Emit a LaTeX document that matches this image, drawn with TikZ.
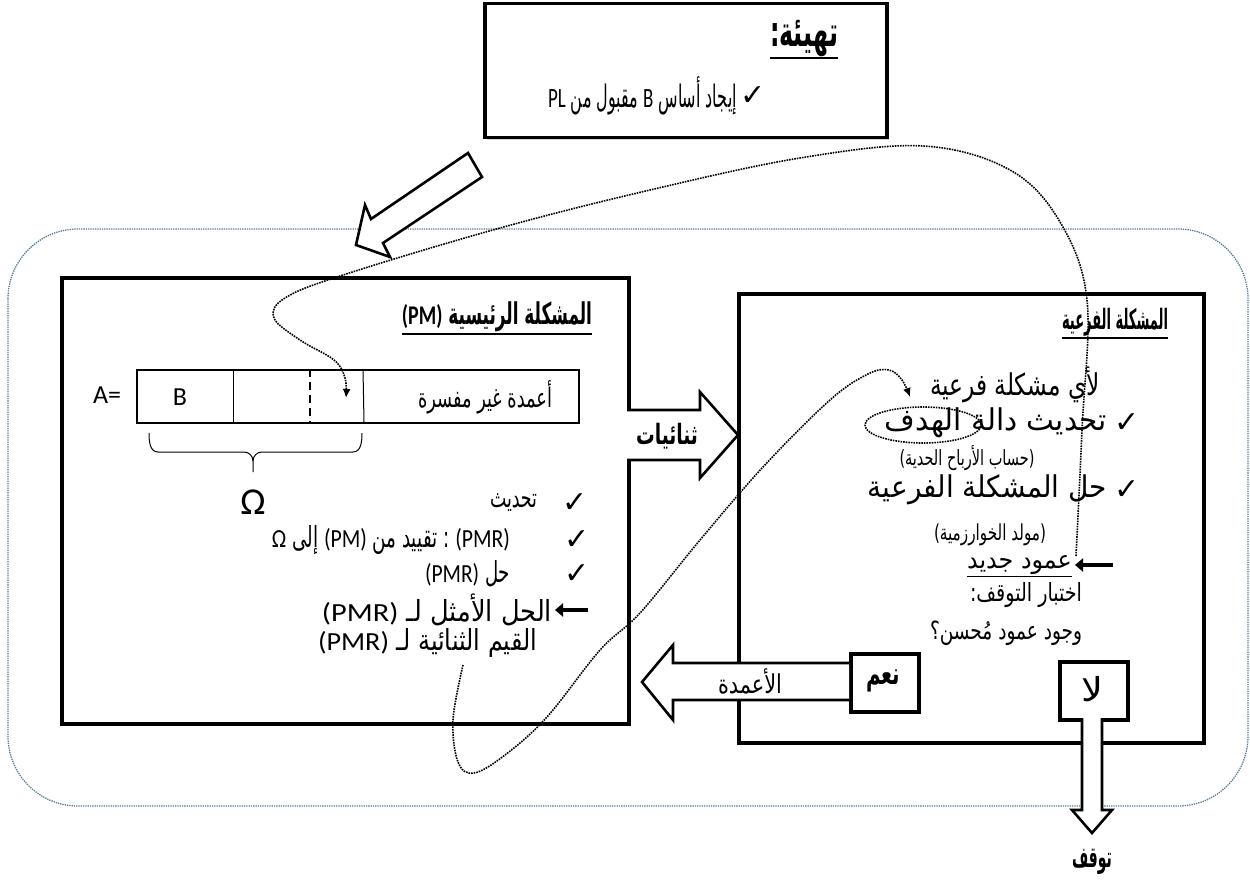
\documentclass[tikz,border=0pt]{standalone}
\usepackage{fontspec}
\usepackage{graphicx}
\usetikzlibrary{arrows.meta,shadows,calc}
\TeXXeTstate=1
\newfontfamily\ar[Script=Arabic, FakeStretch=0.76]{DejaVu Sans}
\newfontfamily\lat{Carlito}
\newfontfamily\latin[Scale=0.9]{Carlito}
\newfontfamily\sym{DejaVu Sans}
\newcommand\rtl[1]{\beginR#1\endR}
\newcommand\ltr[1]{\beginL{\latin#1}\endL{}}
% set a text at a given size, then fit it to a given width
\newcommand\fitto[3]{\resizebox{#1pt}{\height}{\fontsize{#2pt}{#2pt}\selectfont#3}}
\definecolor{framegrey}{RGB}{84,122,146}
\begin{document}
\begin{tikzpicture}[x=1pt,y=-1pt,
  frame/.style={draw, line width=3.5pt, fill=white, inner sep=0pt, anchor=north west,
    drop shadow={shadow xshift=2.5pt,shadow yshift=-2.5pt,opacity=0.35}},
  txt/.style={inner sep=0pt, outer sep=0pt},
  tick/.style={inner sep=0pt, font=\sym\fontsize{30}{30}\selectfont},
  curve/.style={line width=1.6pt, densely dotted},
  hollow/.style={draw, line width=2.6pt, fill=white, line join=miter},
  pointer/.style={line width=3.2pt, -{Triangle[length=8pt,width=13pt]}},
  uline/.style={line width=1.5pt},
]
\useasboundingbox (0,0) rectangle (1250,880);

% outer dotted frame around the iteration
\draw[framegrey, line width=1.3pt, densely dotted, rounded corners=70pt] (8,229) rectangle (1248,806);

% initialisation box
\node[frame, minimum width=402pt, minimum height=134pt] (init) at (483,2) {};
\node[txt, anchor=east] (initT) at (838,38) {\fitto{68}{42}{\ar\bfseries\rtl{تهيئة:}}};
\draw[uline, line width=2pt] ([yshift=-2pt]initT.south west) -- ([yshift=-2pt]initT.south east);
\node[tick] (initC) at (753,96) {✓};
\node[txt, anchor=east] (initL) at (737,96) {\fitto{189}{31}{\ar\rtl{إيجاد أساس \ltr{B} مقبول من \ltr{PL}}}};

% hollow arrow from the initialisation into the loop
\draw[hollow] (356,245) -- (365,205) -- (371,219) -- (468,153) -- (482,177) -- (383,243) -- (390,257) -- cycle;

% master problem box
\node[frame, minimum width=567pt, minimum height=446pt] (pm) at (60,276) {};
\node[txt, anchor=east] (pmT) at (592,317) {\fitto{190}{30}{\ar\bfseries\rtl{المشكلة الرئيسية \ltr{\bfseries(PM)}}}};
\draw[uline] ([yshift=-2pt]pmT.south west) -- ([yshift=-2pt]pmT.south east);

% column matrix A
\node[draw, line width=1.5pt, inner sep=0pt, anchor=north west, minimum width=442pt, minimum height=53pt] (mat) at (136,369) {};
\draw[line width=1pt] (233,369) -- (233,422);
\draw[line width=1.5pt, dash pattern=on 8pt off 5pt] (310,369) -- (310,422);
\draw[line width=1pt] (363,369) -- (364,422);
\node[txt, font=\lat\fontsize{26}{26}\selectfont] (Alab) at (107,395) {A=};
\node[txt, font=\lat\fontsize{26}{26}\selectfont] (Blab) at (180,397) {B};
\node[txt] (nonb) at (485,397) {\fitto{134}{27}{\ar\rtl{أعمدة غير مفسرة}}};

% brace under the restricted set
\draw[line width=1pt] (149,433) to[out=-90,in=180] (158,452) -- (244,452) to[out=0,in=90] (253,461) -- (253,472);
\draw[line width=1pt] (253,461) to[out=90,in=180] (262,452) -- (353,452) to[out=0,in=-90] (362,433);
\node[txt, font=\lat\fontsize{38}{38}\selectfont] (omega) at (253,502) {Ω};

% master problem steps
\node[tick] (c1) at (575,503) {✓};
\node[txt, anchor=east] (m1) at (537,503) {\fitto{47}{27}{\ar\rtl{تحديث}}};
\node[tick] (c2) at (577,540) {✓};
\node[txt, anchor=east] (m2) at (510,540) {\fitto{238}{29}{\ar\rtl{\ltr{(PMR)} : تقييد من \ltr{(PM)} إلى \ltr{Ω}}}};
\node[tick] (c3) at (577,574) {✓};
\node[txt, anchor=east] (m3) at (510,574) {\fitto{85}{29}{\ar\rtl{حل \ltr{(PMR)}}}};
\node[txt, anchor=east] (m4) at (552,610) {\fitto{230}{29}{\ar\rtl{الحل الأمثل لـ \ltr{(PMR)}}}};
\coordinate (m4tail) at (588,610);
\draw[pointer] (m4tail) -- ([xshift=3pt]m4.east);
\node[txt, anchor=east] (m5) at (537,643) {\fitto{219}{29}{\ar\rtl{القيم الثنائية لـ \ltr{(PMR)}}}};

% subproblem box
\node[frame, minimum width=465pt, minimum height=449pt] (sp) at (737,292) {};
\node[txt, anchor=east] (spT) at (1168,322) {\fitto{106}{28}{\ar\bfseries\rtl{المشكلة الفرعية}}};
\draw[uline] ([yshift=-2pt]spT.south west) -- ([yshift=-2pt]spT.south east);
\node[txt, anchor=east] (s1) at (1100,385) {\fitto{170}{30}{\ar\rtl{لأي مشكلة فرعية}}};
\node[tick] (d1) at (1127,423) {✓};
\node[txt, anchor=east] (s2) at (1107,423) {\fitto{222}{30}{\ar\rtl{تحديث دالة الهدف}}};
\node[txt] (s3) at (967,458) {\fitto{135}{21}{\ar\rtl{(حساب الأرباح الحدية)}}};
\node[tick] (d2) at (1127,490) {✓};
\node[txt, anchor=east] (s4) at (1107,490) {\fitto{239}{30}{\ar\rtl{حل المشكلة الفرعية}}};
\node[txt] (s5) at (990,535) {\fitto{112}{22}{\ar\rtl{(مولد الخوارزمية)}}};
\node[txt, anchor=east] (s6) at (1072,565) {\fitto{105}{25}{\ar\rtl{عمود جديد}}};
\draw[uline, line width=1.2pt] ([yshift=-2pt]s6.south west) -- ([yshift=-2pt]s6.south east);
\coordinate (s6tail) at (1113,565);
\draw[pointer] (s6tail) -- ([xshift=3pt]s6.east);
\node[txt, anchor=east] (s7) at (1082,595) {\fitto{112}{25}{\ar\rtl{اختبار التوقف:}}};
\node[txt, anchor=east] (s8) at (1082,633) {\fitto{152}{25}{\ar\rtl{وجود عمود مُحسن؟}}};

% objective function marker
\draw[curve] (923,425) ellipse [x radius=58pt, y radius=18pt];

% duals passed from master to subproblem
\draw[hollow] (627,410) -- (700,410) -- (700,392) -- (738,435) -- (700,478) -- (700,460) -- (627,460);
\node[txt] (dual) at (667,436) {\fitto{62}{28}{\ar\bfseries\rtl{ثنائيات}}};

% yes / no outcome boxes
\node[frame, minimum width=68pt, minimum height=58pt] (yes) at (849,652) {};
\node[txt] (yesT) at (883,681) {\fitto{34}{31}{\ar\bfseries\rtl{نعم}}};
\node[frame, minimum width=68pt, minimum height=58pt] (no) at (1058,660) {};
\node[txt] (noT) at (1092,689) {\fitto{22}{33}{\ar\rtl{لا}}};

% columns returned to the master problem
\draw[hollow] (849,663) -- (673,663) -- (673,645) -- (642,682) -- (673,720) -- (673,700) -- (849,700);
\node[txt] (cols) at (750,681) {\fitto{64}{26}{\ar\rtl{الأعمدة}}};

% stop arrow
\draw[hollow] (1082,718) -- (1082,810) -- (1072,810) -- (1092,833) -- (1112,810) -- (1102,810) -- (1102,718);
\node[txt] (stop) at (1092,862) {\fitto{40}{29}{\ar\bfseries\rtl{توقف}}};

% flow of the new column back into the matrix
\coordinate (n0) at (1076,556);
\coordinate (n1) at (346,398);
\draw[curve, -{Latex[length=9pt,width=8pt]}] plot[smooth, tension=0.6] coordinates {
  (n0) (1082,430) (1087,300) (1060,222) (1010,170) (923,146) (800,158) (650,190)
  (500,228) (343,275) (285,298) (274,318) (300,340) (334,360) (345,378) (n1)};

% flow of the duals into the objective function
\coordinate (u0) at (463,665);
\coordinate (u1) at (910,397);
\draw[curve, -{Latex[length=9pt,width=8pt]}] plot[smooth, tension=0.6] coordinates {
  (u0) (453,720) (458,762) (474,773) (505,755) (547,717) (600,650) (640,613)
  (700,540) (763,467) (830,400) (868,374) (889,370) (902,380) (u1)};
\end{tikzpicture}
\end{document}
